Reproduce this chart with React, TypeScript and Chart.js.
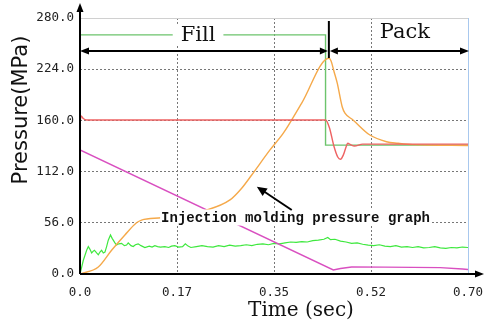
import React, { useEffect, useRef } from 'react';
import { Chart, registerables } from 'chart.js';
Chart.register(...registerables);

// ---- axis ticks ----
const xTickValues = [0, 0.175, 0.35, 0.525, 0.7];
const xTickLabels = ['0.0', '0.17', '0.35', '0.52', '0.70'];
const yTickValues = [0, 56, 112, 168, 224, 280];
const yTickLabels = ['0.0', '56.0', '112.0', '160.0', '224.0', '280.0'];

// ---- phases ----
const fillEndTime = 0.449;

// ---- series: set pressure (step) ----
const setTime = [0, 0.443, 0.443, 0.7];
const setPressure = [261.5, 261.5, 141, 141];

// ---- series: red ----
const redTime = [0, 0.002, 0.006, 0.012, 0.3, 0.443, 0.45, 0.458, 0.465, 0.47, 0.475, 0.48, 0.483, 0.488, 0.495, 0.51, 0.7];
const redPressure = [165, 173, 170, 168.5, 168.5, 168.5, 160, 140, 128, 125.5, 130, 139, 143, 141.5, 140, 142, 142];

// ---- series: orange ----
const orangeTime = [0, 0.033, 0.057, 0.081, 0.102, 0.111, 0.147, 0.18, 0.2286, 0.2706, 0.2917, 0.3098, 0.3428, 0.3668, 0.4, 0.449, 0.453, 0.458, 0.464, 0.473, 0.478, 0.4925, 0.523, 0.553, 0.574, 0.6, 0.7];
const orangePressure = [0, 7.7, 26, 42.7, 56, 59, 61.5, 64.6, 70, 81, 93.8, 108.3, 135.7, 154, 187, 236, 233, 222, 209, 183, 176, 168.5, 152, 144.7, 143, 141.5, 140.5];

// ---- series: magenta ----
const magentaTime = [0, 0.457, 0.47, 0.49, 0.55, 0.65, 0.69, 0.7];
const magentaPressure = [135.7, 4.4, 6, 7.7, 7.5, 7, 5.5, 5];

// ---- series: noisy green ----
const noiseTime = [0, 0.006, 0.012, 0.015, 0.018, 0.021, 0.024, 0.026, 0.03, 0.033, 0.036, 0.039, 0.042, 0.045, 0.048, 0.051, 0.055, 0.058, 0.06, 0.063, 0.066, 0.07, 0.075, 0.08, 0.084, 0.087, 0.092, 0.096, 0.1, 0.105, 0.11, 0.117, 0.125, 0.13, 0.135, 0.14, 0.145, 0.153, 0.16, 0.165, 0.171, 0.178, 0.185, 0.19, 0.195, 0.2, 0.21, 0.22, 0.23, 0.24, 0.25, 0.26, 0.27, 0.28, 0.29, 0.3, 0.31, 0.32, 0.33, 0.34, 0.35, 0.36, 0.37, 0.38, 0.39, 0.4, 0.41, 0.42, 0.43, 0.44, 0.447, 0.452, 0.46, 0.47, 0.48, 0.49, 0.5, 0.51, 0.52, 0.53, 0.54, 0.55, 0.56, 0.57, 0.58, 0.59, 0.6, 0.61, 0.62, 0.63, 0.64, 0.65, 0.66, 0.67, 0.68, 0.69, 0.7];
const noisePressure = [0, 15, 26, 30, 27, 23, 25, 26, 23, 21, 24, 26, 23, 24, 30, 37, 42.7, 39, 37, 34, 31.7, 33, 33.5, 31, 31.7, 34, 31, 30, 32, 33, 31, 29, 30.5, 29.5, 31, 30, 29.5, 30, 29, 30.5, 31, 29.5, 30, 33, 30.5, 29, 30, 31, 30, 29.5, 31, 30, 31.5, 30.5, 31, 32, 31, 32.5, 33, 32, 33.5, 33, 34, 35, 34.5, 35.5, 35, 36.5, 37, 38, 40, 37.5, 38, 36, 35, 33.5, 34, 32.5, 31.5, 31, 32, 30.5, 30, 31, 29.5, 30, 29, 30, 28.5, 29, 30, 28.5, 28, 29, 28.5, 29.5, 29];

const zip = (t: number[], v: number[]) => t.map((x, i) => ({ x, y: v[i] }));

function arrowHead(ctx: CanvasRenderingContext2D, tx: number, ty: number, ang: number, len: number, half: number) {
  const c = Math.cos(ang), s = Math.sin(ang);
  ctx.beginPath();
  ctx.moveTo(tx, ty);
  ctx.lineTo(tx - len * c + half * s, ty - len * s - half * c);
  ctx.lineTo(tx - len * c - half * s, ty - len * s + half * c);
  ctx.closePath();
  ctx.fill();
}

function seg(ctx: CanvasRenderingContext2D, x1: number, y1: number, x2: number, y2: number) {
  ctx.beginPath();
  ctx.moveTo(x1, y1);
  ctx.lineTo(x2, y2);
  ctx.stroke();
}

const zeroPad = (s: any) => {
  s.paddingLeft = 0;
  s.paddingRight = 0;
  s.paddingTop = 0;
  s.paddingBottom = 0;
};

const overlay = {
  id: 'overlay',
  afterDraw(chart: any) {
    const { ctx, chartArea: a, scales } = chart;
    const xs = scales.x, ys = scales.y;
    ctx.save();
    // frame top / right
    ctx.lineWidth = 1;
    ctx.strokeStyle = '#d0d0d0';
    seg(ctx, a.left, a.top + 0.5, a.right, a.top + 0.5);
    ctx.strokeStyle = '#a8c8ee';
    seg(ctx, a.right + 0.5, a.top, a.right + 0.5, a.bottom);

    // axes with arrows
    ctx.strokeStyle = '#000';
    ctx.fillStyle = '#000';
    ctx.lineWidth = 2;
    seg(ctx, a.left, a.bottom, a.left, 10);
    arrowHead(ctx, a.left, 3, -Math.PI / 2, 9, 3.5);
    seg(ctx, a.left, a.bottom, 476, a.bottom);
    arrowHead(ctx, 484, a.bottom, 0, 9, 3.5);

    // Fill / Pack arrows
    const bx = xs.getPixelForValue(fillEndTime);
    const ay = a.top + 33;
    ctx.lineWidth = 2;
    seg(ctx, a.left + 4, ay, bx - 4, ay);
    seg(ctx, bx + 4, ay, a.right - 4, ay);
    arrowHead(ctx, a.left, ay, Math.PI, 9, 3.5);
    arrowHead(ctx, bx - 1, ay, 0, 8, 3.5);
    arrowHead(ctx, bx + 1, ay, Math.PI, 8, 3.5);
    arrowHead(ctx, a.right + 1, ay, 0, 9, 3.5);
    seg(ctx, bx, a.top + 3, bx, ay + 7);

    // Fill label with white background
    ctx.font = '21px "DejaVu Serif"';
    ctx.textAlign = 'center';
    ctx.textBaseline = 'middle';
    const fx = xs.getPixelForValue(0.213);
    const fy = ys.getPixelForValue(setPressure[0]);
    const fw = ctx.measureText('Fill').width;
    ctx.fillStyle = '#fff';
    ctx.fillRect(fx - fw / 2 - 8, fy - 11, fw + 16, 22);
    ctx.fillStyle = '#111';
    ctx.fillText('Fill', fx, fy + 1);
    ctx.fillText('Pack', xs.getPixelForValue(0.586), a.top + 15);

    // annotation
    ctx.font = 'bold 14px "Liberation Mono"';
    const ax = xs.getPixelForValue(0.3888);
    const aY = ys.getPixelForValue(61.8);
    const t = 'Injection molding pressure graph';
    const tw = ctx.measureText(t).width;
    ctx.fillStyle = '#fff';
    ctx.fillRect(ax - tw / 2 - 1, aY - 8, tw + 2, 16);
    ctx.fillStyle = '#111';
    ctx.fillText(t, ax, aY + 1);
    // pointer arrow
    const x1 = xs.getPixelForValue(0.382), y1 = ys.getPixelForValue(70);
    const x2 = xs.getPixelForValue(0.319), y2 = ys.getPixelForValue(95.5);
    ctx.strokeStyle = '#000';
    ctx.fillStyle = '#000';
    ctx.lineWidth = 2;
    const ang = Math.atan2(y2 - y1, x2 - x1);
    seg(ctx, x1, y1, x2 - 6 * Math.cos(ang), y2 - 6 * Math.sin(ang));
    arrowHead(ctx, x2, y2, ang, 10, 4.5);

    // axis titles
    ctx.fillStyle = '#111';
    ctx.font = '20px "DejaVu Serif"';
    ctx.fillText('Time (sec)', 301, 311);
    ctx.save();
    ctx.translate(22, 110);
    ctx.rotate(-Math.PI / 2);
    ctx.font = '21px "DejaVu Sans"';
    ctx.fillText('Pressure(MPa)', 0, 0);
    ctx.restore();
    ctx.restore();
  },
};

export default function App() {
  const ref = useRef<HTMLCanvasElement>(null);
  useEffect(() => {
    if (!ref.current) return;
    const common = { pointRadius: 0, borderWidth: 1.4, fill: false };
    const chart = new Chart(ref.current, {
      type: 'line',
      data: {
        datasets: [
          { ...common, label: 'Red', data: zip(redTime, redPressure), borderColor: '#ee6262', tension: 0.3, cubicInterpolationMode: 'monotone' },
          { ...common, label: 'Orange', data: zip(orangeTime, orangePressure), borderColor: '#f5a94a', tension: 0.3, cubicInterpolationMode: 'monotone' },
          { ...common, label: 'Set', data: zip(setTime, setPressure), borderColor: '#6cc46c', tension: 0 },
          { ...common, label: 'Magenta', data: zip(magentaTime, magentaPressure), borderColor: '#d94fc0', tension: 0 },
          { ...common, label: 'Noise', data: zip(noiseTime, noisePressure), borderColor: '#3ee83e', borderWidth: 1.2, tension: 0 },
        ],
      } as any,
      options: {
        animation: false,
        responsive: false,
        events: [],
        layout: { padding: { left: 0, top: 18, right: 17, bottom: 0 } },
        plugins: { legend: { display: false }, tooltip: { enabled: false } },
        scales: {
          x: {
            type: 'linear',
            min: 0,
            max: 0.7,
            afterBuildTicks: (s: any) => { s.ticks = xTickValues.map((v) => ({ value: v })); },
            afterFit: (s: any) => { s.height = 51; zeroPad(s); },
            ticks: {
              autoSkip: false,
              maxRotation: 0,
              padding: 11,
              color: '#222',
              font: { family: '"DejaVu Sans Mono"', size: 12.5 },
              callback: (_v: any, i: number) => xTickLabels[i],
            },
            grid: {
              drawTicks: false,
              color: (c: any) => (c.tick && (c.tick.value === 0 || c.tick.value === 0.7) ? 'rgba(0,0,0,0)' : '#777'),
              lineWidth: 1,
            },
            border: { display: false, dash: [2, 2] },
          },
          y: {
            type: 'linear',
            min: 0,
            max: 280,
            afterBuildTicks: (s: any) => { s.ticks = yTickValues.map((v) => ({ value: v })); },
            afterFit: (s: any) => { s.width = 80; zeroPad(s); },
            ticks: {
              autoSkip: false,
              padding: 6,
              color: '#222',
              font: { family: '"DejaVu Sans Mono"', size: 12.5 },
              callback: (_v: any, i: number) => yTickLabels[i],
            },
            grid: {
              drawTicks: false,
              color: (c: any) => (c.tick && (c.tick.value === 0 || c.tick.value === 280) ? 'rgba(0,0,0,0)' : '#777'),
              lineWidth: 1,
            },
            border: { display: false, dash: [2, 2] },
          },
        },
      } as any,
      plugins: [overlay],
    });
    return () => chart.destroy();
  }, []);
  return (
    <div style={{ position: 'absolute', left: 0, top: 0, width: 485, height: 325, background: '#fff' }}>
      <canvas ref={ref} width={485} height={325} style={{ display: 'block' }} />
    </div>
  );
}
